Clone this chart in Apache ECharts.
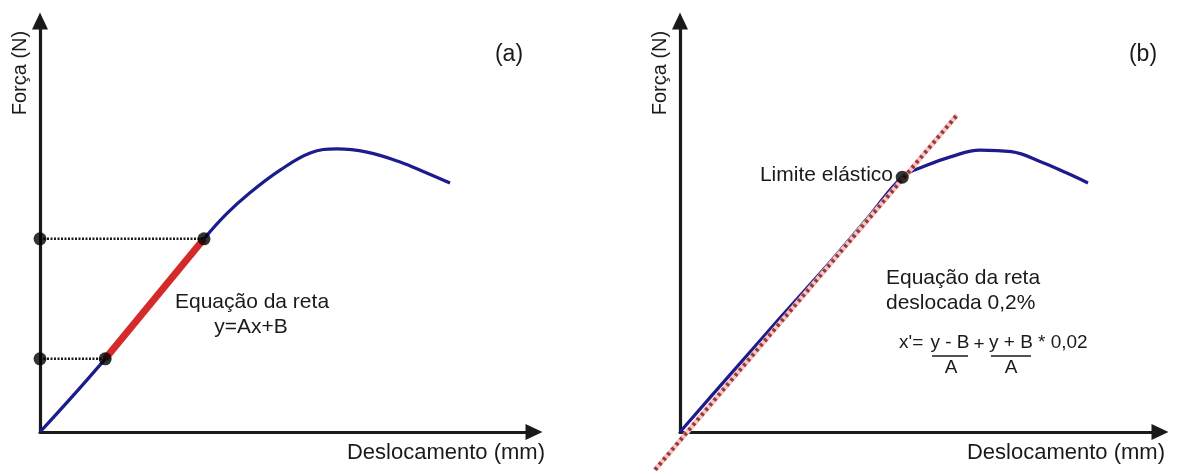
<!DOCTYPE html>
<html><head><meta charset="utf-8">
<script src="https://cdn.jsdelivr.net/npm/echarts@6/dist/echarts.min.js"></script>
<style>html,body{margin:0;padding:0;background:#fff}#c{width:1177px;height:472px}</style>
</head><body><div id="c"></div>
<script>
// ---- Panel (a): curve and fitted segment (schematic units) ----
const curveA_x = [0, 1.32, 3.32, 3.77, 4.25, 4.86, 5.47, 6.01, 6.62, 7.29, 7.83, 8.30];
const curveA_y = [0, 1.78, 4.70, 5.30, 5.82, 6.37, 6.79, 6.89, 6.81, 6.57, 6.30, 6.06];
const fitA_x = [1.32, 3.32];
const fitA_y = [1.78, 4.70];
// ---- Panel (b): curve, 0.2% offset line, elastic limit ----
const curveB_x = [0, 1.04, 2.08, 3.13, 3.96, 4.63, 5.10, 5.65, 6.25, 6.90, 7.55, 8.06, 8.50];
const curveB_y = [0, 1.39, 2.77, 4.14, 5.28, 6.20, 6.47, 6.70, 6.86, 6.82, 6.56, 6.30, 6.06];
const offsetB_x = [-0.52, 5.77];
const offsetB_y = [-0.92, 7.71];
const limitB = [4.63, 6.20];
// ---- Texts ----
const xName = 'Deslocamento (mm)';
const yName = 'Força (N)';
const panelTags = ['(a)', '(b)'];

const FONT = '"Liberation Sans", Arial, sans-serif';
const INK = '#1a1a1a';
const BLUE = '#1c1c8c';
const RED = '#d42a2a';

const zip = (xs, ys) => xs.map((v, i) => [v, ys[i]]);

function makeAxis(gi, min, hidden) {
  return {
    type: 'value', gridIndex: gi, min: min, max: 10,
    axisLine: hidden ? { show: false } : { show: true, onZero: false, symbol: ['none', 'triangle'], symbolSize: [16, 17],
      lineStyle: { color: INK, width: 3.2 } },
    axisTick: { show: false }, axisLabel: { show: false }, splitLine: { show: false }
  };
}

const chart = echarts.init(document.getElementById('c'), null, { renderer: 'canvas' });

function txt(x, y, s, size, align, extra) {
  return Object.assign({ type: 'text', x: x, y: y, z: 100,
    style: { text: s, font: size + 'px ' + FONT, fill: INK, align: align || 'center', verticalAlign: 'middle' } }, extra || {});
}
function hline(x1, x2, y) {
  return { type: 'line', z: 100, shape: { x1: x1, y1: y, x2: x2, y2: y }, style: { stroke: INK, lineWidth: 1.3 } };
}

// panel (b) scale: 48 px per x unit, 41.1 px per y unit; grid 2 shares it but starts at -1
chart.setOption({
  animation: false,
  backgroundColor: '#ffffff',
  grid: [
    { left: 40, top: 21, width: 494, height: 411, outerBoundsMode: 'none' },
    { left: 680, top: 21, width: 480, height: 411, outerBoundsMode: 'none' },
    { left: 632, top: 21, width: 528, height: 452.1, outerBoundsMode: 'none' }
  ],
  xAxis: [makeAxis(0, 0), makeAxis(1, 0), makeAxis(2, -1, true)],
  yAxis: [makeAxis(0, 0), makeAxis(1, 0), makeAxis(2, -1, true)],
  series: [
    // panel (a)
    { type: 'line', xAxisIndex: 0, yAxisIndex: 0, data: zip(curveA_x, curveA_y), smooth: 0.4,
      showSymbol: false, lineStyle: { color: BLUE, width: 3.2 }, z: 2 },
    { type: 'line', xAxisIndex: 0, yAxisIndex: 0, data: zip(fitA_x, fitA_y), showSymbol: false,
      lineStyle: { color: RED, width: 7 }, z: 3 },
    { type: 'line', xAxisIndex: 0, yAxisIndex: 0, data: [[0, fitA_y[1]], [fitA_x[1], fitA_y[1]]], showSymbol: false,
      lineStyle: { color: INK, width: 2.5, type: [2, 1.5] }, z: 3 },
    { type: 'line', xAxisIndex: 0, yAxisIndex: 0, data: [[0, fitA_y[0]], [fitA_x[0], fitA_y[0]]], showSymbol: false,
      lineStyle: { color: INK, width: 2.5, type: [2, 1.5] }, z: 3 },
    { type: 'scatter', xAxisIndex: 0, yAxisIndex: 0, symbolSize: 13, itemStyle: { color: '#000' }, z: 5,
      data: [[0, fitA_y[0]], [0, fitA_y[1]], [fitA_x[0], fitA_y[0]], [fitA_x[1], fitA_y[1]]] },
    // panel (b)
    { type: 'line', xAxisIndex: 1, yAxisIndex: 1, data: zip(curveB_x, curveB_y), smooth: 0.4,
      showSymbol: false, lineStyle: { color: BLUE, width: 3.2 }, z: 2 },
    { type: 'line', xAxisIndex: 2, yAxisIndex: 2, data: zip(offsetB_x, offsetB_y), showSymbol: false,
      lineStyle: { color: '#f4c8c8', width: 5 }, z: 3 },
    { type: 'line', xAxisIndex: 2, yAxisIndex: 2, data: zip(offsetB_x, offsetB_y), showSymbol: false,
      lineStyle: { color: '#9c3838', width: 4, type: [3, 3.5], cap: 'butt' }, z: 4 },
    { type: 'scatter', xAxisIndex: 1, yAxisIndex: 1, symbolSize: 13, itemStyle: { color: '#000' }, z: 5,
      data: [limitB] }
  ],
  graphic: [
    txt(509, 55, panelTags[0], 23),
    txt(1143, 55, panelTags[1], 23),
    txt(20, 73, yName, 20, 'center', { rotation: Math.PI / 2 }),
    txt(660, 73, yName, 20, 'center', { rotation: Math.PI / 2 }),
    txt(545, 453, xName, 22, 'right'),
    txt(1165, 453, xName, 22, 'right'),
    txt(252, 302, 'Equação da reta', 21),
    txt(251, 327, 'y=Ax+B', 21),
    txt(893, 175, 'Limite elástico', 21, 'right'),
    txt(886, 278, 'Equação da reta', 21, 'left'),
    txt(886, 303, 'deslocada 0,2%', 21, 'left'),
    txt(899, 343, "x'=", 19, 'left'),
    txt(950, 343, 'y - B', 19),
    hline(932, 968, 356),
    txt(951, 368, 'A', 19),
    txt(979, 345, '+', 19),
    txt(1011, 343, 'y + B', 19),
    hline(991, 1031, 356),
    txt(1011, 368, 'A', 19),
    txt(1038, 343, '* 0,02', 19, 'left')
  ]
});
</script></body></html>
